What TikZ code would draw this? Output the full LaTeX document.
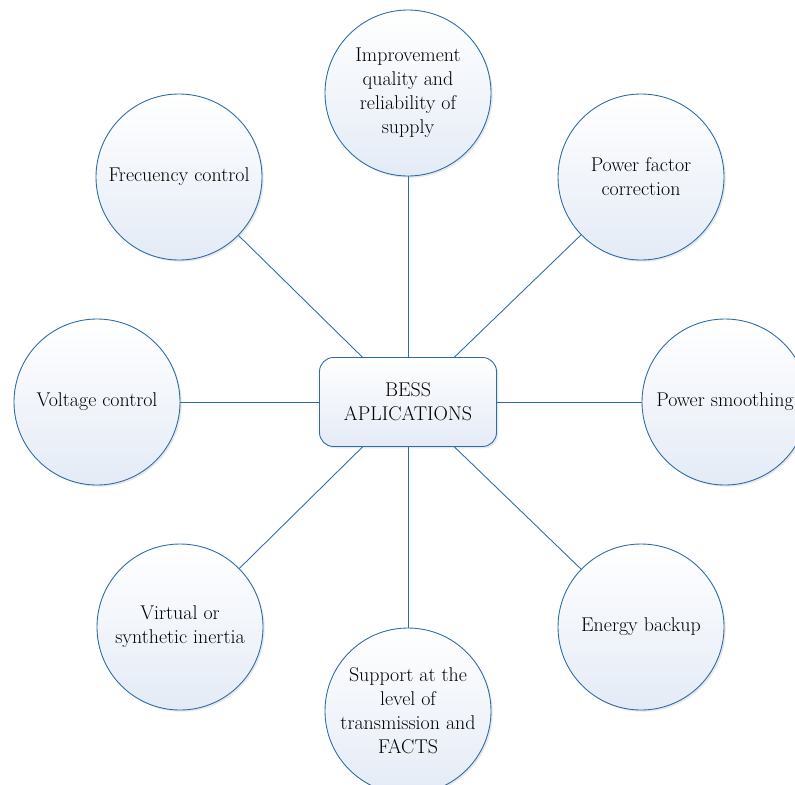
\documentclass[tikz,border=0pt]{standalone}
\usepackage{tikz}
\usetikzlibrary{positioning,shapes,shadows}
\definecolor{appblue}{RGB}{44,108,168}
\definecolor{appfill}{RGB}{228,235,246}

\begin{document}
\begin{tikzpicture}[x=0.03cm,y=-0.03cm,
  appcircle/.style={circle, draw=appblue, line width=0.75pt, minimum size=166*0.03cm, inner sep=0pt,
    top color=white, bottom color=appfill, align=center, font=\fontsize{17}{20.5}\selectfont,
    drop shadow={opacity=0.18, shadow xshift=1.5pt, shadow yshift=-1.5pt}},
  hubbox/.style={rounded corners=12pt, draw=appblue, line width=0.75pt, minimum width=177*0.03cm, minimum height=89*0.03cm,
    top color=white, bottom color=appfill, align=center, font=\fontsize{17}{20.5}\selectfont,
    drop shadow={opacity=0.18, shadow xshift=1.5pt, shadow yshift=-1.5pt}},
  spoke/.style={draw=appblue, line width=0.75pt}]
\useasboundingbox (0,0) rectangle (795,784);

% Central box
\node[hubbox] (bess) at (408,402) {BESS\\APLICATIONS};

% Applications round the box
\node[appcircle] (quality) at (408,93) {Improvement\\quality and\\reliability of\\supply};
\node[appcircle] (pf) at (641,177) {Power factor\\correction};
\node[appcircle] (smooth) at (725,402) {Power smoothing};
\node[appcircle] (backup) at (641,627) {Energy backup};
\node[appcircle] (facts) at (408,711) {Support at the\\level of\\transmission and\\FACTS};
\node[appcircle] (inertia) at (180,627) {Virtual or\\synthetic inertia};
\node[appcircle] (volt) at (97,402) {Voltage control};
\node[appcircle] (freq) at (179,177) {Frecuency control};

% Spokes
\foreach \app in {quality,pf,smooth,backup,facts,inertia,volt,freq}
  \draw[spoke] (bess) -- (\app);
\end{tikzpicture}
\end{document}
